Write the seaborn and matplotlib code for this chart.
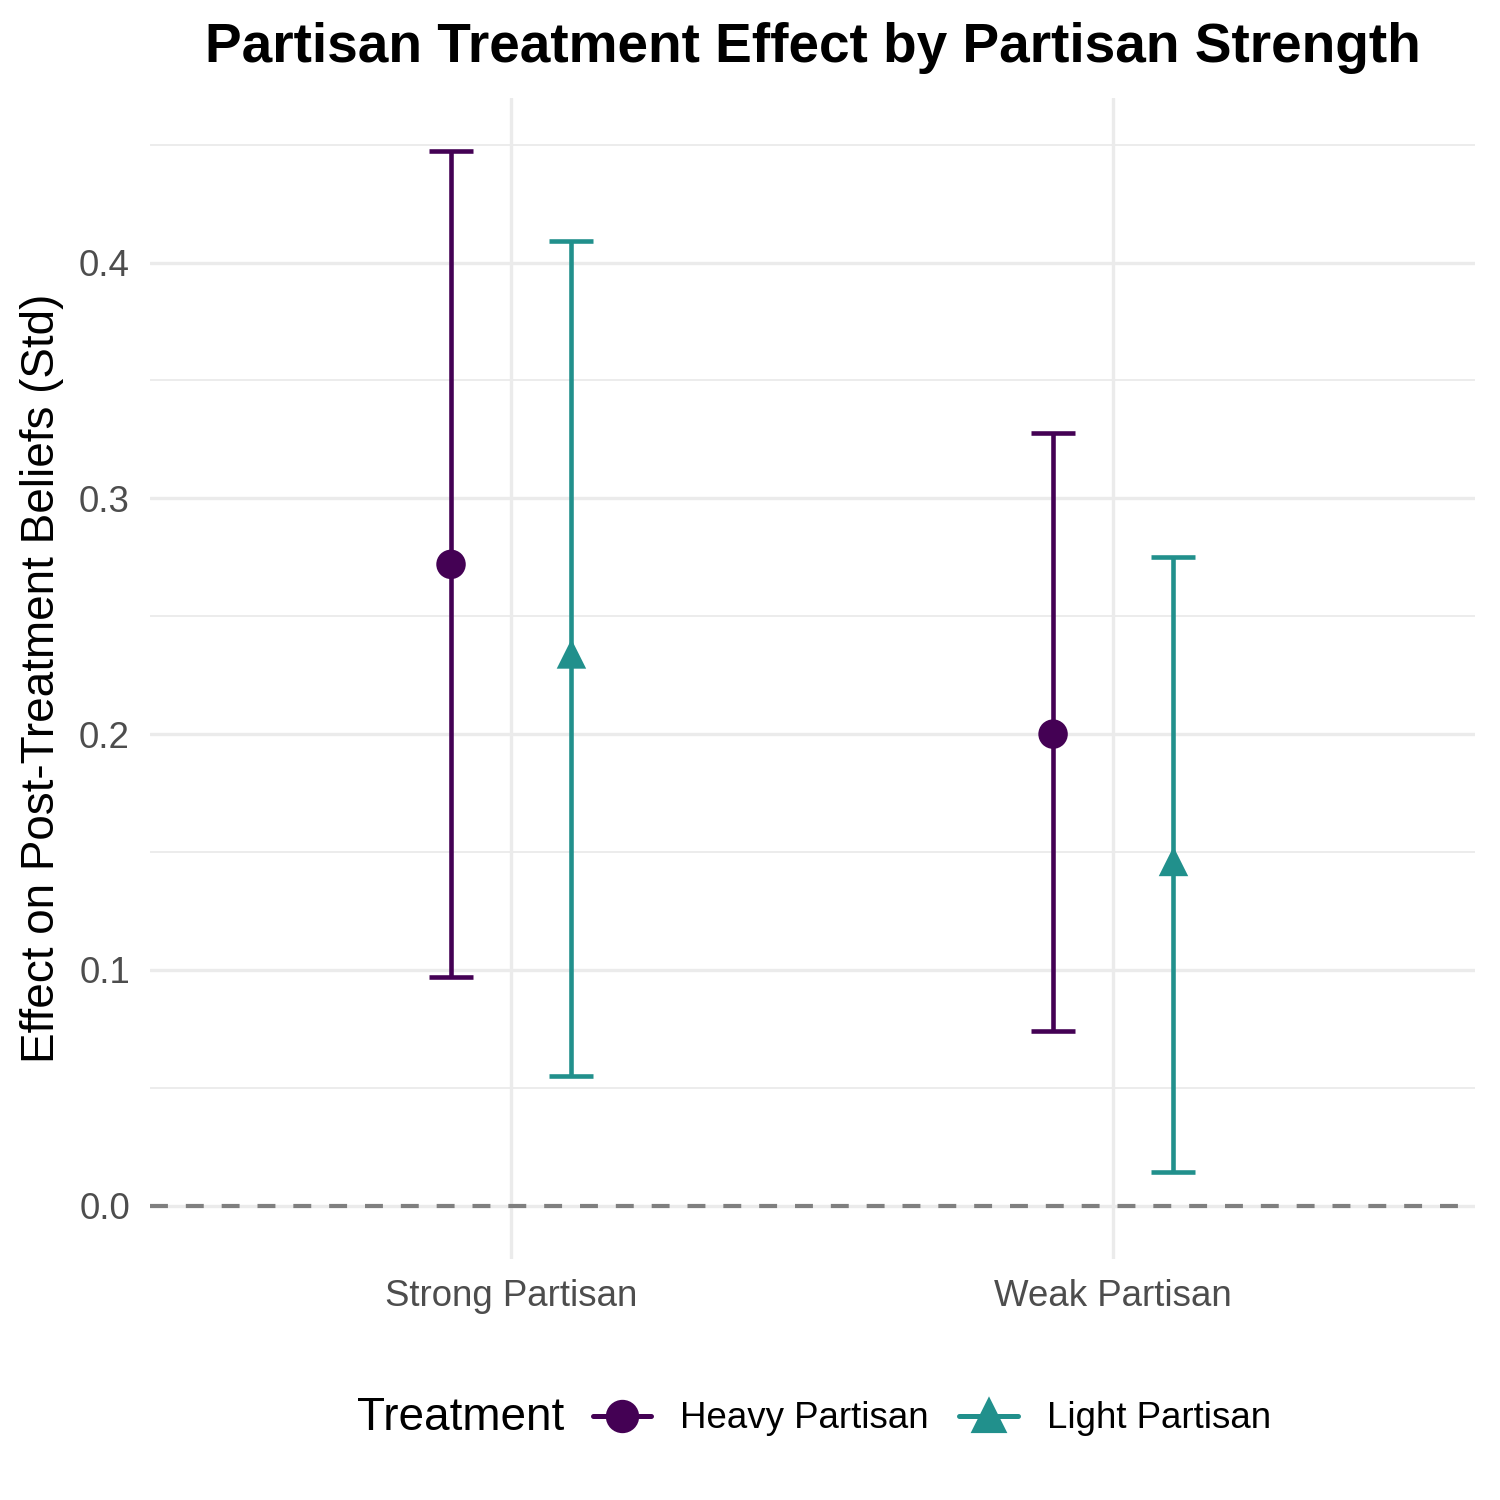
import matplotlib
matplotlib.use("Agg")
import matplotlib.pyplot as plt
import seaborn as sns
import pandas as pd
import numpy as np
from matplotlib.lines import Line2D
from matplotlib.ticker import MultipleLocator

categories = ["Strong Partisan", "Weak Partisan"]
treatments = ["Heavy Partisan", "Light Partisan"]
estimate_heavy = [0.272, 0.200]
lower_heavy = [0.097, 0.074]
upper_heavy = [0.4475, 0.3275]
estimate_light = [0.234, 0.146]
lower_light = [0.055, 0.0144]
upper_light = [0.409, 0.275]

rows = []
for i, c in enumerate(categories):
    rows.append(dict(group=c, treatment=treatments[0], est=estimate_heavy[i], lo=lower_heavy[i], hi=upper_heavy[i]))
    rows.append(dict(group=c, treatment=treatments[1], est=estimate_light[i], lo=lower_light[i], hi=upper_light[i]))
df = pd.DataFrame(rows)

sns.set_theme(style="whitegrid")
plt.rcParams['font.family'] = ['Liberation Sans', 'DejaVu Sans']

colors = {"Heavy Partisan": "#440154", "Light Partisan": "#21908C"}
markers = {"Heavy Partisan": "o", "Light Partisan": "^"}
dodge = {"Heavy Partisan": -0.1, "Light Partisan": 0.1}

df["xpos"] = df["group"].map({c: i for i, c in enumerate(categories)}) + df["treatment"].map(dodge)

fig = plt.figure(figsize=(5, 5), dpi=300)
ax = fig.add_axes([0.1, 0.161, 0.883, 0.774])

ax.axhline(0, color="#7F7F7F", linestyle=(0, (4.3, 4.3)), linewidth=1.0, zorder=1)

for t in treatments:
    sub = df[df["treatment"] == t]
    ax.errorbar(sub["xpos"], sub["est"], yerr=[sub["est"] - sub["lo"], sub["hi"] - sub["est"]],
                fmt="none", ecolor=colors[t], elinewidth=1.1, capsize=5.2, capthick=1.1, zorder=2)

sns.scatterplot(data=df, x="xpos", y="est", hue="treatment", style="treatment",
                palette=colors, markers=markers, s=50, edgecolor="none", ax=ax, legend=False, zorder=3)

ax.set_xlim(-0.6, 1.6)
ax.set_ylim(-0.0224, 0.47)
ax.set_xticks(range(len(categories)))
ax.set_xticklabels(categories)
ax.yaxis.set_minor_locator(MultipleLocator(0.05))
ax.set_yticks([0.0, 0.1, 0.2, 0.3, 0.4])
ax.set_yticklabels(["0.0", "0.1", "0.2", "0.3", "0.4"])
ax.grid(which="major", color="#EBEBEB", linewidth=0.8)
ax.grid(which="minor", axis="y", color="#EBEBEB", linewidth=0.45)
ax.set_axisbelow(True)
for s in ax.spines.values():
    s.set_visible(False)
ax.tick_params(axis="both", which="both", length=0, labelsize=8.8, labelcolor="#4D4D4D")
ax.tick_params(axis="y", pad=4.8)
ax.tick_params(axis="x", pad=5)
ax.set_ylim(-0.0224, 0.47)
ax.set_xlabel("")
ax.set_ylabel("Effect on Post-Treatment Beliefs (Std)", fontsize=11, color="black", labelpad=3.5)

fig.suptitle("Partisan Treatment Effect by Partisan Strength", fontsize=13.2, fontweight="bold",
             color="black", x=0.542, y=0.985)

fig.text(0.238, 0.055, "Treatment", fontsize=11, color="black", ha="left", va="center")
handles = [Line2D([0], [0], color=colors[t], marker=markers[t], markersize=7, linewidth=1.2) for t in treatments]
leg = fig.legend(handles, treatments, loc="center left", bbox_to_anchor=(0.395, 0.054), ncol=2, frameon=False,
                 fontsize=8.8, handlelength=1.6, columnspacing=0.82, handletextpad=0.8, borderpad=0,
                 borderaxespad=0)
for txt in leg.get_texts():
    txt.set_color("black")

fig.savefig("out.png", dpi=300)
